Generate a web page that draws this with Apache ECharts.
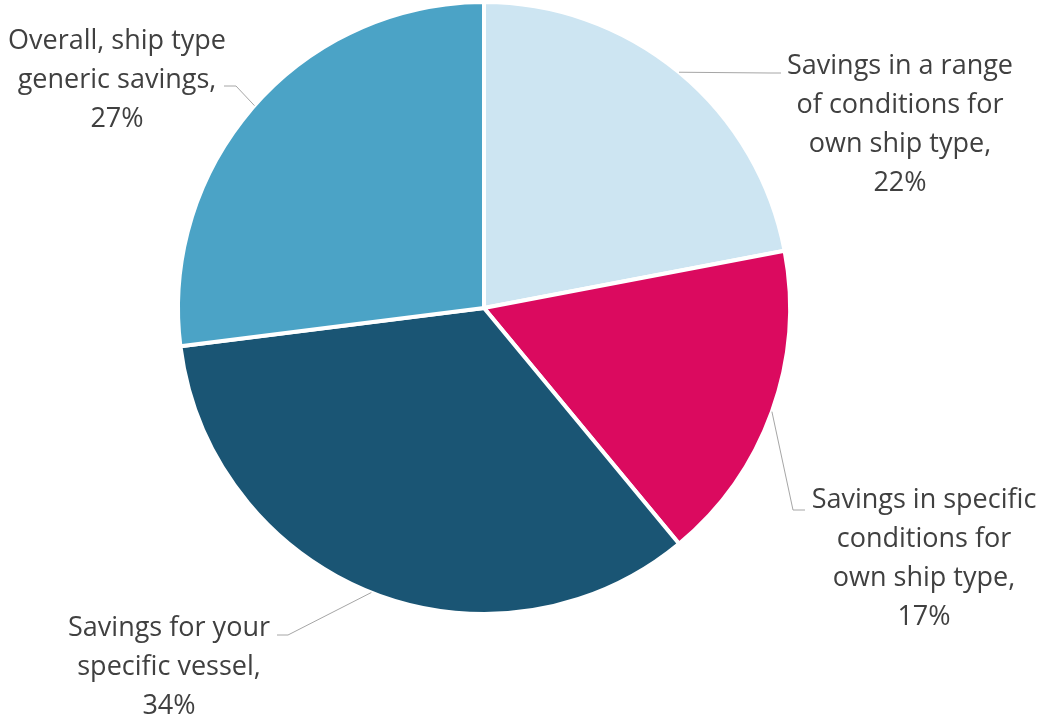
<!DOCTYPE html>
<html>
<head>
<meta charset="utf-8">
<style>
  html, body { margin: 0; padding: 0; background: #ffffff; }
  #chart { width: 1042px; height: 718px; }
</style>
<script src="https://cdn.jsdelivr.net/npm/echarts@6/dist/echarts.min.js"></script>
</head>
<body>
<div id="chart"></div>
<script>
// Shares of savings types, clockwise from 12 o'clock
const categories = [
  'Savings in a range\nof conditions for\nown ship type',
  'Savings in specific\nconditions for\nown ship type',
  'Savings for your\nspecific vessel',
  'Overall, ship type\ngeneric savings'
];
const shares = [22, 17, 34, 27];
const sliceColors = ['#cde5f2', '#db0a5f', '#1a5574', '#4ba3c6'];

// Pie geometry
const CX = 484, CY = 308, R = 306;

// Centre of each label block
const labelSpots = [
  { x: 900, y: 125 },
  { x: 924, y: 559 },
  { x: 169, y: 667 },
  { x: 117, y: 80 }
];
// Leader line bend point and end point (next to the label text)
const leaderBends = [
  [[770, 73], [781, 73]],
  [[793, 510], [805, 510]],
  [[288, 635], [277, 635]],
  [[236, 86], [224, 86]]
];

const total = shares.reduce((a, b) => a + b, 0);

// Leader lines start on the rim at each slice's mid angle
function leaderLines() {
  let cum = 0;
  return shares.map((v, i) => {
    const mid = (cum + v / 2) / total * Math.PI * 2;
    cum += v;
    const start = [CX + R * Math.sin(mid), CY - R * Math.cos(mid)];
    return {
      type: 'polyline',
      silent: true,
      z: 10,
      shape: { points: [start].concat(leaderBends[i]) },
      style: { stroke: '#a6a6a6', lineWidth: 1, fill: null }
    };
  });
}

const chart = echarts.init(document.getElementById('chart'));
chart.setOption({
  backgroundColor: '#ffffff',
  animation: false,
  graphic: leaderLines(),
  series: [{
    type: 'pie',
    center: [CX, CY],
    radius: [0, R],
    startAngle: 90,
    clockwise: true,
    data: categories.map((name, i) => ({
      name: name,
      value: shares[i],
      itemStyle: { color: sliceColors[i] }
    })),
    itemStyle: { borderColor: '#ffffff', borderWidth: 4 },
    label: {
      show: true,
      formatter: p => p.name + ',\n' + p.value + '%',
      fontFamily: 'Open Sans',
      fontSize: 27,
      lineHeight: 39,
      color: '#404040',
      align: 'center',
      overflow: 'none',
      width: 400
    },
    labelLine: { show: false },
    labelLayout: p => {
      const s = labelSpots[p.dataIndex];
      return { x: s.x, y: s.y, align: 'center', verticalAlign: 'middle' };
    }
  }]
});
</script>
</body>
</html>
